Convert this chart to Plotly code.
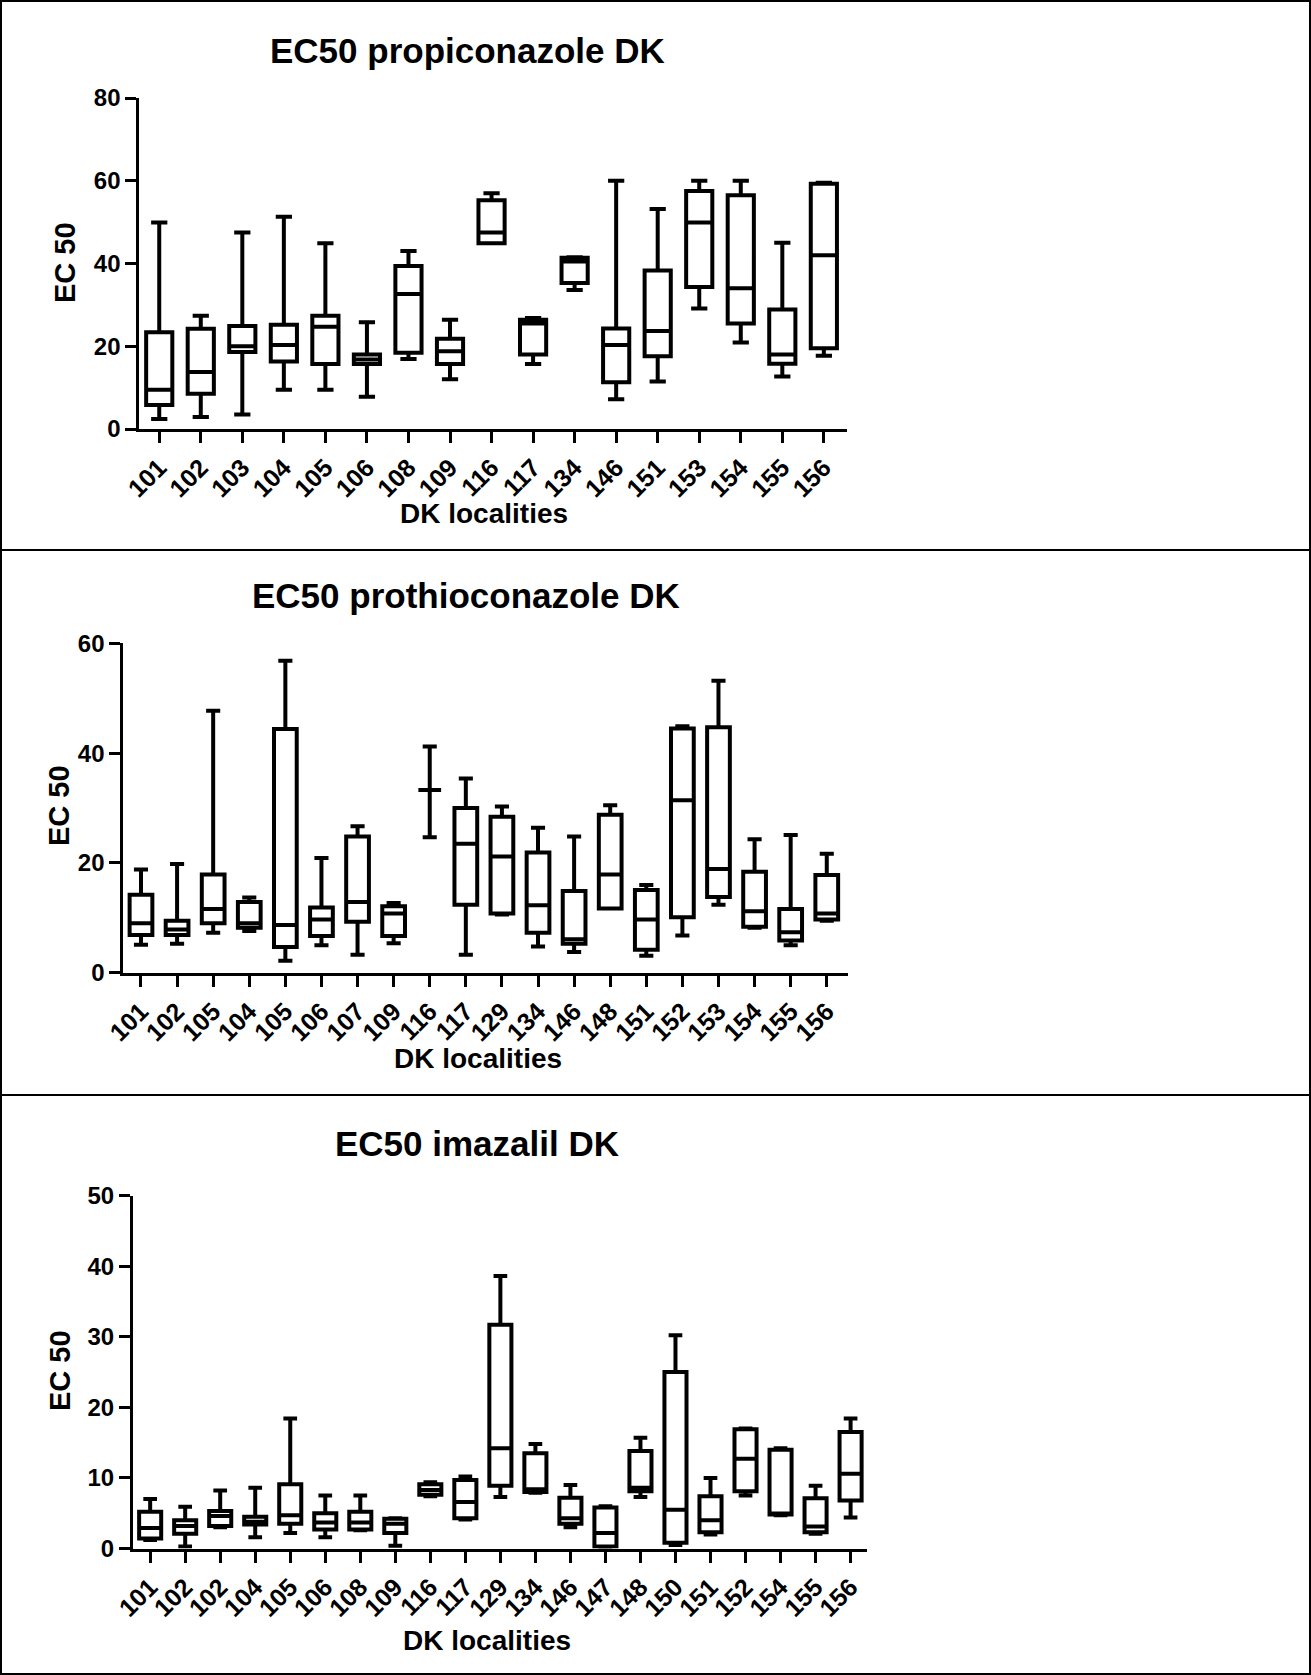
import plotly.graph_objects as go

W, H = 1311, 1675

# ---------------- data ----------------
prop_labels = ["101", "102", "103", "104", "105", "106", "108", "109", "116", "117",
               "134", "146", "151", "153", "154", "155", "156"]
prop_lower = [2.4, 2.9, 3.5, 9.5, 9.5, 7.8, 16.9, 12.0, 44.9, 15.7, 33.6, 7.2, 11.5, 29.1, 20.9, 12.7, 17.7]
prop_q1 = [5.8, 8.5, 18.6, 16.3, 15.7, 15.7, 18.4, 15.7, 44.9, 18.0, 35.3, 11.3, 17.6, 34.3, 25.5, 15.8, 19.5]
prop_median = [9.5, 13.8, 20.0, 20.3, 24.7, 16.8, 32.6, 18.8, 47.5, 25.5, 40.5, 20.3, 23.7, 49.9, 34.0, 18.0, 42.0]
prop_q3 = [23.4, 24.2, 24.9, 25.2, 27.4, 18.0, 39.4, 21.8, 55.3, 26.4, 41.4, 24.3, 38.3, 57.5, 56.5, 28.9, 59.3]
prop_upper = [49.9, 27.4, 47.5, 51.3, 44.9, 25.8, 43.0, 26.4, 57.0, 26.8, 41.5, 60.0, 53.2, 60.0, 60.0, 45.0, 59.5]

proth_labels = ["101", "102", "105", "104", "105", "106", "107", "109", "116", "117",
                "129", "134", "146", "148", "151", "152", "153", "154", "155", "156"]
proth_lower = [5.1, 5.3, 7.3, 7.6, 2.2, 5.0, 3.3, 5.4, 24.7, 3.3, 10.6, 4.8, 3.8, 11.7, 3.1, 6.8, 12.4, 8.2, 5.0, 9.5]
proth_q1 = [6.9, 6.9, 9.0, 8.2, 4.7, 6.7, 9.3, 6.7, 33.3, 12.4, 10.8, 7.3, 5.3, 11.7, 4.2, 10.1, 13.8, 8.4, 5.9, 9.7]
proth_median = [9.0, 7.9, 11.6, 9.0, 8.7, 9.7, 12.9, 10.8, 33.3, 23.5, 21.2, 12.3, 6.1, 17.9, 9.7, 31.4, 18.9, 11.2, 7.4, 10.8]
proth_q3 = [14.2, 9.5, 17.9, 12.9, 44.4, 11.9, 24.8, 12.1, 33.3, 30.0, 28.4, 21.9, 14.9, 28.8, 15.1, 44.5, 44.7, 18.4, 11.6, 17.8]
proth_upper = [18.8, 19.8, 47.7, 13.7, 56.8, 20.9, 26.7, 12.7, 41.2, 35.4, 30.3, 26.4, 24.8, 30.5, 16.0, 44.9, 53.2, 24.3, 25.1, 21.7]

ima_labels = ["101", "102", "102", "104", "105", "106", "108", "109", "116", "117", "129",
              "134", "146", "147", "148", "150", "151", "152", "154", "155", "156"]
ima_lower = [1.2, 0.3, 3.0, 1.6, 2.2, 1.6, 2.6, 0.4, 7.4, 4.1, 7.3, 7.9, 3.0, 0.2, 7.3, 0.5, 2.0, 7.5, 4.7, 2.1, 4.4]
ima_q1 = [1.4, 2.1, 3.2, 3.4, 3.5, 2.7, 2.7, 2.2, 7.6, 4.3, 8.9, 8.0, 3.5, 0.3, 8.1, 0.8, 2.3, 8.1, 4.8, 2.3, 6.8]
ima_median = [2.9, 3.2, 4.6, 3.8, 4.7, 3.7, 3.7, 3.5, 8.3, 6.6, 14.2, 8.4, 4.3, 2.2, 8.6, 5.5, 4.0, 12.7, 4.9, 3.1, 10.6]
ima_q3 = [5.2, 4.0, 5.3, 4.5, 9.1, 5.0, 5.2, 4.2, 9.1, 9.7, 31.7, 13.5, 7.2, 5.8, 13.8, 25.0, 7.4, 16.9, 14.0, 7.1, 16.5]
ima_upper = [7.0, 5.9, 8.2, 8.6, 18.4, 7.5, 7.5, 4.3, 9.4, 10.2, 38.6, 14.8, 9.0, 6.0, 15.7, 30.2, 10.0, 17.0, 14.2, 8.9, 18.4]

titles = ["EC50 propiconazole DK", "EC50 prothioconazole DK", "EC50 imazalil DK"]
y_max = [80, 60, 50]
y_step = [20, 20, 10]

# ---------------- layout geometry (pixels) ----------------
FONT = "Liberation Sans, Arial, Helvetica, sans-serif"
panels = [
    dict(labels=prop_labels, lo=prop_lower, q1=prop_q1, me=prop_median, q3=prop_q3, hi=prop_upper,
         px=(139.3, 846.7), py=(98.0, 429.0), xr=(-0.48, 16.55),
         title_xy=(467, 51), ytitle_xy=(65, 263), xtitle_xy=(484, 513)),
    dict(labels=proth_labels, lo=proth_lower, q1=proth_q1, me=proth_median, q3=proth_q3, hi=proth_upper,
         px=(123.3, 847.7), py=(643.3, 972.8), xr=(-0.49, 19.58),
         title_xy=(466, 595), ytitle_xy=(59, 806), xtitle_xy=(478, 1058)),
    dict(labels=ima_labels, lo=ima_lower, q1=ima_q1, me=ima_median, q3=ima_q3, hi=ima_upper,
         px=(133.0, 866.7), py=(1195.5, 1548.5), xr=(-0.49, 20.46),
         title_xy=(477, 1143), ytitle_xy=(60, 1371), xtitle_xy=(487, 1640)),
]

fig = go.Figure()
annotations = []
for i, p in enumerate(panels):
    sfx = "" if i == 0 else str(i + 1)
    n = len(p["labels"])
    pos = list(range(n))
    fig.add_trace(go.Box(
        x=pos, q1=p["q1"], median=p["me"], q3=p["q3"],
        lowerfence=p["lo"], upperfence=p["hi"],
        xaxis="x" + sfx, yaxis="y" + sfx,
        fillcolor="white", line=dict(color="black", width=4),
        whiskerwidth=0.62, width=0.63, boxpoints=False, showlegend=False,
        hoverinfo="skip",
    ))
    axis_common = dict(showline=True, linewidth=3, linecolor="black",
                       ticks="outside", ticklen=11, tickwidth=3, tickcolor="black",
                       showgrid=False, zeroline=False, automargin=False,
                       tickfont=dict(family=FONT, size=24, color="black", weight="bold"))
    fig.update_layout(**{
        "xaxis" + sfx: dict(domain=[p["px"][0] / W, p["px"][1] / W], range=list(p["xr"]),
                            tickmode="array", tickvals=pos, ticktext=p["labels"], tickangle=-45,
                            anchor="y" + sfx, fixedrange=True, **axis_common),
        "yaxis" + sfx: dict(domain=[1 - p["py"][1] / H, 1 - p["py"][0] / H], range=[0, y_max[i]],
                            dtick=y_step[i], tick0=0, anchor="x" + sfx, fixedrange=True, **axis_common),
    })
    fig.update_layout(**{"xaxis" + sfx + "_tickfont_size": 25})
    tx, ty = p["title_xy"]
    annotations.append(dict(text=titles[i], x=tx / W, y=1 - ty / H, xref="paper", yref="paper",
                            xanchor="center", yanchor="middle", showarrow=False,
                            font=dict(family=FONT, size=35, color="black", weight="bold")))
    yx, yy = p["ytitle_xy"]
    annotations.append(dict(text="EC 50", x=yx / W, y=1 - yy / H, xref="paper", yref="paper",
                            xanchor="center", yanchor="middle", showarrow=False, textangle=-90,
                            font=dict(family=FONT, size=29, color="black", weight="bold")))
    xx, xy = p["xtitle_xy"]
    annotations.append(dict(text="DK localities", x=xx / W, y=1 - xy / H, xref="paper", yref="paper",
                            xanchor="center", yanchor="middle", showarrow=False,
                            font=dict(family=FONT, size=28, color="black", weight="bold")))

shapes = [
    dict(type="rect", xref="paper", yref="paper", x0=1 / W, x1=1 - 1 / W, y0=1 / H, y1=1 - 1 / H,
         line=dict(color="black", width=2)),
    dict(type="line", xref="paper", yref="paper", x0=0, x1=1, y0=1 - 550 / H, y1=1 - 550 / H,
         line=dict(color="black", width=2)),
    dict(type="line", xref="paper", yref="paper", x0=0, x1=1, y0=1 - 1095 / H, y1=1 - 1095 / H,
         line=dict(color="black", width=2)),
]

fig.update_layout(width=W, height=H, autosize=False,
                  margin=dict(l=0, r=0, t=0, b=0, pad=0),
                  paper_bgcolor="white", plot_bgcolor="white",
                  annotations=annotations, shapes=shapes, showlegend=False)

fig.write_html("out.html", config={"displayModeBar": False, "staticPlot": True},
               post_script="document.body.style.margin='0px';document.body.style.padding='0px';"
                           "document.documentElement.style.overflow='hidden';")
